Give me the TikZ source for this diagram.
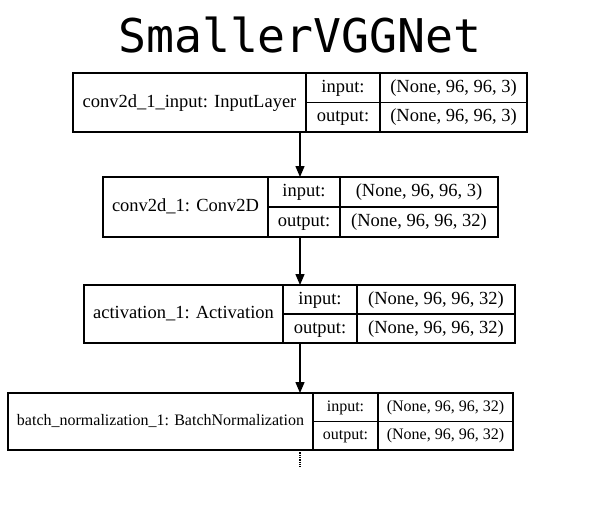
\documentclass[tikz,border=0pt]{standalone}
\usepackage{fontspec}
\setmainfont{Liberation Serif}
\newfontfamily\titlefont{DejaVu Sans Mono}
\usetikzlibrary{arrows.meta,positioning}
\tikzset{
  cell/.style      = {draw, line width=1.2pt, inner sep=0pt, outer sep=0pt,
                      anchor=north west, align=center,
                      font=\fontsize{18.5}{20}\selectfont,
                      text height=13pt, text depth=4pt},
  small cell/.style = {cell, font=\fontsize{16}{18}\selectfont,
                      text height=11.5pt, text depth=3.5pt},
  arr/.style       = {-{Triangle[length=11pt,width=9pt]}, line width=1.3pt},
  cut arr/.style   = {densely dotted, line width=1.3pt},
}

\begin{document}
\begin{tikzpicture}[x=1pt, y=-1pt]
  \useasboundingbox (0,0) rectangle (600,504);
  \coordinate (axis) at (300,0);

  \node[font=\titlefont\fontsize{46.5}{50}\selectfont] (title) at (300,35) {SmallerVGGNet};

  % input layer
  \node[cell, minimum width=233pt, minimum height=59pt] (inp) at (73,73) {conv2d\_1\_input: InputLayer};
  \node[cell, minimum width=74pt, minimum height=29.5pt]  (inp in)   at (inp.north east)    {input:};
  \node[cell, minimum width=74pt, minimum height=29.5pt]  (inp out)  at (inp in.south west) {output:};
  \node[cell, minimum width=147pt, minimum height=29.5pt] (inp ins)  at (inp in.north east) {(None, 96, 96, 3)};
  \node[cell, minimum width=147pt, minimum height=29.5pt] (inp outs) at (inp out.north east) {(None, 96, 96, 3)};

  % conv layer
  \node[cell, minimum width=165pt, minimum height=60pt] (conv) at (103,177) {conv2d\_1: Conv2D};
  \node[cell, minimum width=72pt, minimum height=30pt]  (conv in)   at (conv.north east)    {input:};
  \node[cell, minimum width=72pt, minimum height=30pt]  (conv out)  at (conv in.south west) {output:};
  \node[cell, minimum width=158pt, minimum height=30pt] (conv ins)  at (conv in.north east) {(None, 96, 96, 3)};
  \node[cell, minimum width=158pt, minimum height=30pt] (conv outs) at (conv out.north east) {(None, 96, 96, 32)};

  % activation layer
  \node[cell, minimum width=199pt, minimum height=58pt] (act) at (84,285) {activation\_1: Activation};
  \node[cell, minimum width=74pt, minimum height=29pt]  (act in)   at (act.north east)    {input:};
  \node[cell, minimum width=74pt, minimum height=29pt]  (act out)  at (act in.south west) {output:};
  \node[cell, minimum width=158pt, minimum height=29pt] (act ins)  at (act in.north east) {(None, 96, 96, 32)};
  \node[cell, minimum width=158pt, minimum height=29pt] (act outs) at (act out.north east) {(None, 96, 96, 32)};

  % batch normalization layer
  \node[small cell, minimum width=305pt, minimum height=57pt] (bn) at (8,393) {batch\_normalization\_1: BatchNormalization};
  \node[small cell, minimum width=65pt, minimum height=28.5pt]  (bn in)   at (bn.north east)    {input:};
  \node[small cell, minimum width=65pt, minimum height=28.5pt]  (bn out)  at (bn in.south west) {output:};
  \node[small cell, minimum width=135pt, minimum height=28.5pt] (bn ins)  at (bn in.north east) {(None, 96, 96, 32)};
  \node[small cell, minimum width=135pt, minimum height=28.5pt] (bn outs) at (bn out.north east) {(None, 96, 96, 32)};

  \draw[arr] (inp.south -| axis)  -- (conv.north -| axis);
  \draw[arr] (conv.south -| axis) -- (act.north -| axis);
  \draw[arr] (act.south -| axis)  -- (bn.north -| axis);

  \coordinate (cut) at (300,468);
  \draw[cut arr] (bn.south -| axis) -- (cut);
\end{tikzpicture}
\end{document}
